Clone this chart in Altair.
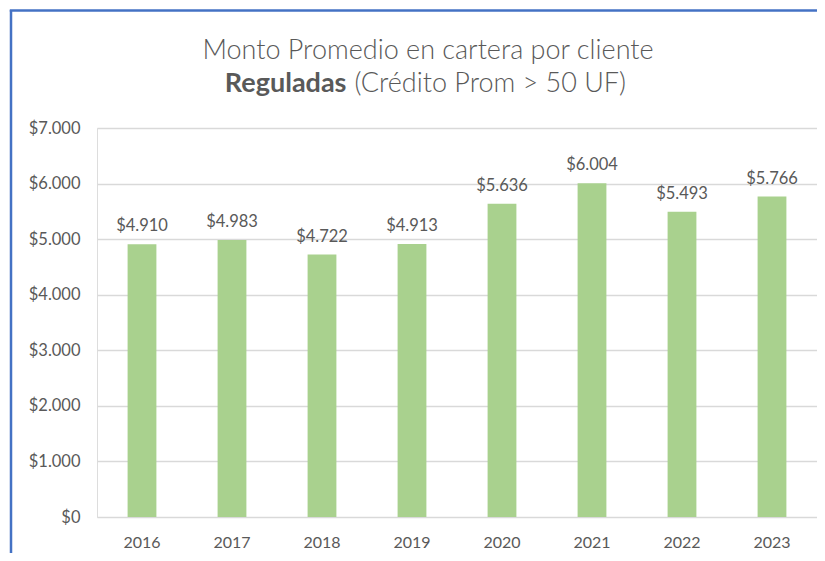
import altair as alt
import pandas as pd

years = ["2016", "2017", "2018", "2019", "2020", "2021", "2022", "2023"]
values = [4910, 4983, 4722, 4913, 5636, 6004, 5493, 5766]
y_ticks = [0, 1000, 2000, 3000, 4000, 5000, 6000, 7000]
title_line1 = "Monto Promedio en cartera por cliente"
title_bold = "Reguladas"
title_rest = "(Crédito Prom > 50 UF)"

FONT = "Lato"
TXT = "#595959"
W, H = 720, 389

df = pd.DataFrame({
    "year": years,
    "value": values,
    "label": ["$" + f"{v:,}".replace(",", ".") for v in values],
})

x = alt.X("year:N", sort=years, title=None,
          scale=alt.Scale(paddingInner=0.68, paddingOuter=0.34),
          axis=alt.Axis(labelAngle=0, labelPadding=17, labelFontSize=16,
                        labelColor=TXT, labelFont=FONT, domain=False, ticks=False, grid=False))
y = alt.Y("value:Q", title=None,
          scale=alt.Scale(domain=[0, 7000], nice=False),
          axis=alt.Axis(values=y_ticks, labelPadding=17, labelFontSize=16.5, labelColor=TXT,
                        labelFont=FONT, domain=False, ticks=False, grid=True,
                        gridColor="#D9D9D9", gridWidth=1.5,
                        labelExpr='"$" + replace(format(datum.value, ","), ",", ".")'))

base = alt.Chart(df)
bars = base.mark_bar(color="#A9D18E").encode(x=x, y=y)
labels = base.mark_text(baseline="alphabetic", dy=-13, fontSize=16.5, font=FONT, color=TXT).encode(
    x=alt.X("year:N", sort=years), y="value:Q", text="label:N")

TS = 27
t1 = alt.Chart(pd.DataFrame({"t": [title_line1]})).mark_text(
    font=FONT, fontSize=TS, fontWeight=300, color=TXT, align="center", baseline="alphabetic"
).encode(x=alt.value(331), y=alt.value(-69.5), text="t:N")
t2a = alt.Chart(pd.DataFrame({"t": [title_bold]})).mark_text(
    font=FONT, fontSize=TS, fontWeight="bold", color=TXT, align="right", baseline="alphabetic"
).encode(x=alt.value(249.5), y=alt.value(-36.5), text="t:N")
t2b = alt.Chart(pd.DataFrame({"t": [title_rest]})).mark_text(
    font=FONT, fontSize=TS, fontWeight=300, color=TXT, align="left", baseline="alphabetic"
).encode(x=alt.value(257.5), y=alt.value(-36.5), text="t:N")

border_df = pd.DataFrame({"k": ["b"]})
left_rule = alt.Chart(border_df).mark_rule(color="#4472C4", strokeWidth=2.5).encode(
    x=alt.value(-86), y=alt.value(-118), y2=alt.value(440))
top_rule = alt.Chart(border_df).mark_rule(color="#4472C4", strokeWidth=2.5).encode(
    y=alt.value(-117.5), x=alt.value(-87.2), x2=alt.value(740))

chart = alt.layer(bars, labels, t1, t2a, t2b, left_rule, top_rule).properties(
    width=W, height=H,
    autosize=alt.AutoSizeParams(type="none"),
    padding={"left": 89, "top": 120, "right": 0, "bottom": 36},
).configure_view(stroke=None).configure(background="white")

chart.save("out.html", embed_options={"renderer": "svg", "actions": False})
